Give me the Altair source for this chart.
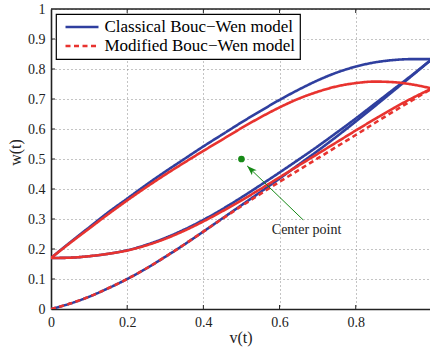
import altair as alt
import pandas as pd

# ---------------- data ----------------
v_grid = [0.0, 0.05, 0.1, 0.15, 0.2, 0.25, 0.3, 0.35, 0.4, 0.45, 0.5,
          0.55, 0.6, 0.65, 0.7, 0.75, 0.8, 0.85, 0.9, 0.95, 1.0]

classical_initial = [0.0, 0.018, 0.041, 0.069, 0.1, 0.135, 0.174, 0.215, 0.258, 0.302, 0.346,
                     0.39, 0.435, 0.481, 0.527, 0.575, 0.625, 0.676, 0.728, 0.78, 0.833]
classical_loading = [0.17, 0.171, 0.176, 0.184, 0.196, 0.214, 0.237, 0.265, 0.297, 0.333, 0.372,
                     0.413, 0.455, 0.498, 0.542, 0.588, 0.635, 0.684, 0.733, 0.782, 0.833]
classical_unloading = [0.17, 0.222, 0.272, 0.322, 0.368, 0.414, 0.458, 0.5, 0.542, 0.582, 0.622,
                       0.66, 0.697, 0.731, 0.762, 0.788, 0.808, 0.822, 0.83, 0.833, 0.833]

modified_initial = [0.0, 0.018, 0.041, 0.069, 0.1, 0.135, 0.174, 0.215, 0.258, 0.301, 0.343,
                    0.384, 0.424, 0.463, 0.502, 0.541, 0.58, 0.62, 0.659, 0.697, 0.735]
modified_loading = [0.17, 0.171, 0.176, 0.184, 0.195, 0.212, 0.234, 0.261, 0.292, 0.326, 0.362,
                    0.4, 0.439, 0.478, 0.517, 0.556, 0.595, 0.633, 0.67, 0.704, 0.735]
modified_unloading = [0.17, 0.22, 0.268, 0.316, 0.362, 0.406, 0.448, 0.488, 0.527, 0.565, 0.603,
                      0.639, 0.672, 0.701, 0.724, 0.742, 0.753, 0.758, 0.756, 0.748, 0.735]

models = ["Classical Bouc\u2212Wen model", "Modified Bouc\u2212Wen model"]

x_ticks = [0, 0.2, 0.4, 0.6, 0.8]
y_ticks = [0, 0.1, 0.2, 0.3, 0.4, 0.5, 0.6, 0.7, 0.8, 0.9, 1.0]

center_point = [0.5, 0.5]
arrow_tail = [0.662, 0.297]
arrow_head = [0.515, 0.477]
label_pos = [0.671, 0.263]
label_text = "Center point"

# ---------------- build table ----------------
rows = []
for model, branch, ws in [
    (models[0], "initial", classical_initial),
    (models[0], "loading", classical_loading),
    (models[0], "unloading", classical_unloading),
    (models[1], "initial", modified_initial),
    (models[1], "loading", modified_loading),
    (models[1], "unloading", modified_unloading),
]:
    for v, w in zip(v_grid, ws):
        rows.append({"v": v, "w": w, "model": model, "branch": branch})
df = pd.DataFrame(rows)

BLUE = "#2f3f9f"
RED = "#e8332f"
GREEN = "#178a17"
FONT = "Liberation Serif"

color_scale = alt.Scale(domain=models, range=[BLUE, RED])
dash_scale = alt.Scale(domain=models, range=[[1, 0], [5, 3.5]])

legend = alt.Legend(
    title=None, orient="none", legendX=5, legendY=5,
    strokeColor="black", fillColor="white", padding=4.5,
    symbolType="M-2.5,0L2.5,0", symbolSize=174, symbolStrokeWidth=2.5,
    symbolOffset=13, labelOffset=14, rowPadding=1,
    labelFont=FONT, labelFontSize=17, labelColor="black", labelLimit=400,
)

x_axis = alt.Axis(values=x_ticks, format="~g", title="v(t)", labelFlush=False,
                  labelOverlap=False, titleX=189.5, titleY=28, titleBaseline="middle")
y_axis = alt.Axis(values=y_ticks, format="~g", title="w(t)", labelOverlap=False,
                  titleX=-36, titleY=143, titleAngle=-90,
                  titleAlign="center", titleBaseline="middle")
x_scale = alt.Scale(domain=[0, 0.995], nice=False, zero=False)
y_scale = alt.Scale(domain=[0, 1], nice=False, zero=False)


def X(field="v"):
    return alt.X(f"{field}:Q", scale=x_scale, axis=x_axis)


def Y(field="w"):
    return alt.Y(f"{field}:Q", scale=y_scale, axis=y_axis)


base = alt.Chart(df)

blue_lines = base.transform_filter(alt.datum.model == models[0]).mark_line(
    strokeWidth=2.6, clip=True, interpolate="monotone"
).encode(
    x=X(), y=Y(),
    color=alt.Color("model:N", scale=color_scale, legend=legend),
    strokeDash=alt.StrokeDash("model:N", scale=dash_scale, legend=legend),
    detail="branch:N",
    order="v:Q",
)

red_loop = base.transform_filter(
    (alt.datum.model == models[1]) & (alt.datum.branch != "initial")
).mark_line(strokeWidth=2.6, clip=True, interpolate="monotone").encode(
    x=X(), y=Y(),
    color=alt.Color("model:N", scale=color_scale, legend=legend),
    strokeDash=alt.value([1, 0]),
    detail="branch:N",
    order="v:Q",
)

red_initial = base.transform_filter(
    (alt.datum.model == models[1]) & (alt.datum.branch == "initial")
).mark_line(strokeWidth=2.6, clip=True, interpolate="monotone").encode(
    x=X(), y=Y(),
    color=alt.Color("model:N", scale=color_scale, legend=legend),
    strokeDash=alt.StrokeDash("model:N", scale=dash_scale, legend=legend),
    order="v:Q",
)

# MATLAB-like inward ticks and top frame line
xt = alt.Chart(pd.DataFrame({"v": x_ticks[1:]}))
x_ticks_bottom = xt.mark_rule(color="#222", strokeWidth=1).encode(
    x=X(), y=alt.value(300), y2=alt.value(296))
x_ticks_top = xt.mark_rule(color="#222", strokeWidth=1).encode(
    x=X(), y=alt.value(0), y2=alt.value(4))
yt = alt.Chart(pd.DataFrame({"w": y_ticks[1:-1]}))
y_ticks_left = yt.mark_rule(color="#222", strokeWidth=1).encode(
    y=Y(), x=alt.value(0), x2=alt.value(4))
top_frame = alt.Chart(pd.DataFrame({"w": [y_ticks[-1]]})).mark_rule(
    color="#222", strokeWidth=1.6).encode(y=Y())

# annotation
pt = alt.Chart(pd.DataFrame({"v": [center_point[0]], "w": [center_point[1]]})).mark_point(
    filled=True, color=GREEN, size=45, opacity=1).encode(x=X(), y=Y())
arrow_df = pd.DataFrame({"v": [arrow_tail[0]], "w": [arrow_tail[1]],
                         "v2": [arrow_head[0]], "w2": [arrow_head[1]]})
arrow_line = alt.Chart(arrow_df).mark_rule(color=GREEN, strokeWidth=1).encode(
    x=X(), y=Y(), x2="v2:Q", y2="w2:Q")
arrow_tip = alt.Chart(pd.DataFrame({"v": [arrow_head[0]], "w": [arrow_head[1]]})).mark_point(
    shape="M0,0L0.55,1.6L0,1.2L-0.55,1.6Z", filled=True, color=GREEN, size=156,
    angle=314, opacity=1).encode(x=X(), y=Y())
label = alt.Chart(pd.DataFrame({"v": [label_pos[0]], "w": [label_pos[1]], "t": [label_text]})).mark_text(
    font=FONT, fontSize=14, color="#222", align="center", baseline="middle").encode(
    x=X(), y=Y(), text="t:N")

chart = alt.layer(
    blue_lines, red_loop, red_initial,
    x_ticks_bottom, x_ticks_top, y_ticks_left, top_frame,
    arrow_line, arrow_tip, pt, label,
).properties(
    width=379, height=300,
    autosize=alt.AutoSizeParams(type="none"),
    padding={"left": 51, "top": 9, "right": 0, "bottom": 38},
    background="white",
).configure_view(stroke=None).configure_axis(
    labelFont=FONT, labelFontSize=14, labelColor="#222",
    titleFont=FONT, titleFontSize=16, titleColor="#222", titleFontWeight="normal",
    domainColor="#222", domainWidth=1.6, tickSize=0, labelPadding=6,
    gridColor="#888", gridDash=[1, 3], gridWidth=1, gridOpacity=1,
).configure_legend(strokeWidth=1.2)

chart.save("out.html", embed_options={"renderer": "svg", "actions": False})
